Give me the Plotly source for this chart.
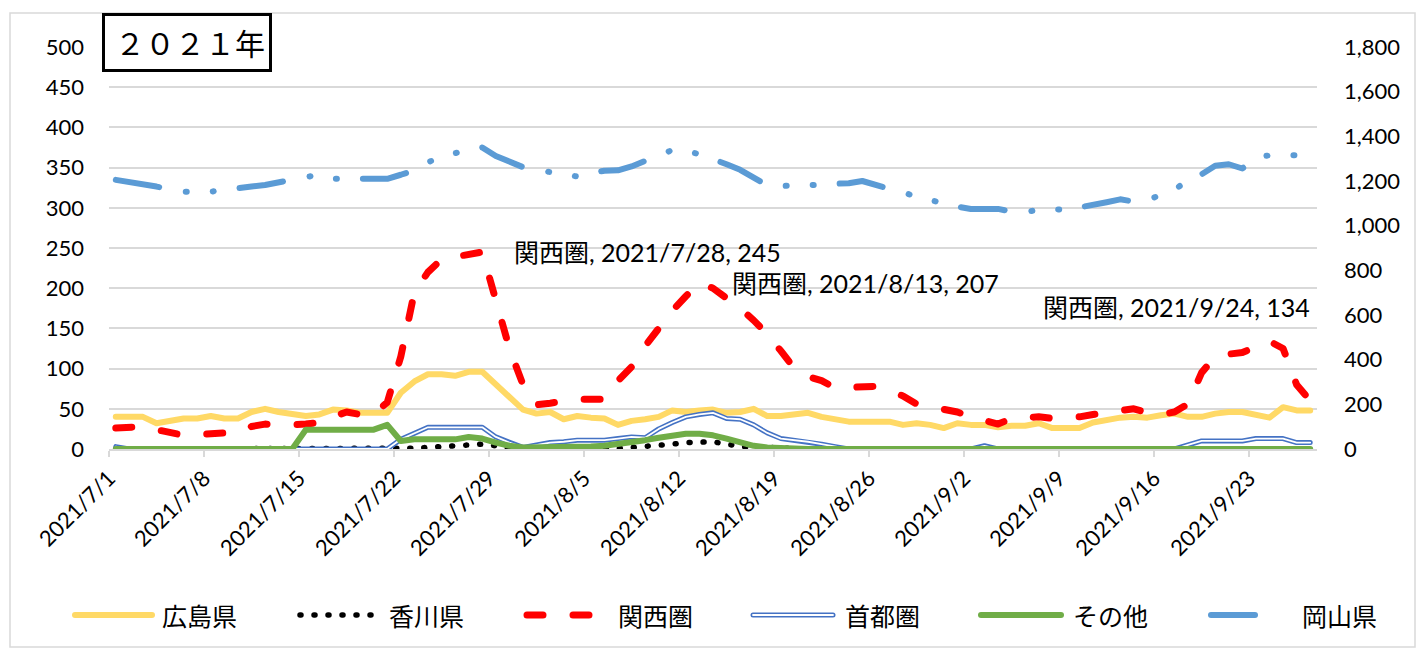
import pandas as pd
import plotly.graph_objects as go

# ---------------- data ----------------
start_date = "2021-07-01"
end_date = "2021-09-27"
dates = pd.date_range(start_date, end_date, freq="D")          # 89 days
tick_dates = pd.date_range(start_date, end_date, freq="7D")
tick_text = [f"{d.year}/{d.month}/{d.day}" for d in tick_dates]

series_names = ["広島県", "香川県", "関西圏", "首都圏", "その他", "岡山県"]

hiroshima = [40, 40, 40, 32, 35, 38, 38, 41, 38, 38,
             46, 50, 46, 43, 41, 43, 49, 48, 45, 45,
             45, 70, 84, 93, 93, 91, 96, 96, 80, 63,
             49, 44, 46, 37, 41, 39, 38, 30, 35, 37,
             40, 48, 46, 48, 49, 45, 46, 50, 41, 41,
             43, 45, 40, 37, 34, 34, 34, 34, 30, 32,
             30, 26, 32, 30, 30, 27, 29, 29, 32, 26,
             26, 26, 33, 36, 39, 40, 39, 42, 44, 40,
             40, 44, 46, 46, 43, 39, 52, 48, 48]

kagawa = [0, 0, 0, 0, 0, 0, 0, 0, 0, 0,
          0, 0, 0, 0, 0, 0, 0, 0, 0, 0,
          0, 1, 1, 2, 3, 4, 5, 6, 4, 1,
          0, 0, 0, 0, 0, 0, 0, 1, 2, 3,
          4, 6, 8, 9, 9, 6, 3, 1, 2, 1,
          0, 0, 0, 0, 0, 0, 0, 0, 0, 0,
          0, 0, 0, 0, 0, 0, 0, 0, 0, 0,
          0, 0, 0, 0, 0, 0, 0, 0, 0, 0,
          0, 0, 0, 0, 0, 0, 0, 0, 0]

kansai = [26, 27, 28, 24, 20, 17, 18, 20, 20, 20,
          28, 31, 30, 30, 31, 33, 40, 46, 43, 43,
          58, 115, 195, 220, 236, 239, 241, 245, 185, 125,
          80, 55, 57, 60, 62, 62, 62, 85, 102, 128,
          150, 172, 190, 207, 200, 188, 175, 160, 143, 122,
          100, 90, 85, 76, 77, 78, 78, 72, 66, 56,
          53, 49, 46, 40, 36, 31, 38, 40, 40, 38,
          38, 40, 43, 45, 48, 50, 45, 43, 46, 56,
          95, 115, 118, 120, 127, 134, 125, 80, 60]

shutoken = [3, 0, 0, 0, 0, 0, 0, 0, 0, 0,
            0, 0, 0, 0, 0, 0, 0, 0, 0, 0,
            0, 12, 20, 27, 27, 27, 27, 27, 15, 8,
            2, 5, 8, 9, 11, 11, 11, 13, 15, 14,
            25, 33, 40, 43, 45, 38, 37, 30, 20, 13,
            11, 9, 6, 3, 0, 0, 0, 0, 0, 0,
            0, 0, 0, 0, 4, 0, 0, 0, 0, 0,
            0, 0, 0, 0, 0, 0, 0, 0, 0, 5,
            10, 10, 10, 10, 13, 13, 13, 8, 8]

other = [0, 0, 0, 0, 0, 0, 0, 0, 0, 0,
         0, 0, 0, 0, 24, 24, 24, 24, 24, 24,
         30, 10, 12, 12, 12, 12, 15, 13, 8, 4,
         2, 2, 2, 2, 2, 3, 4, 6, 9, 11,
         14, 17, 19, 19, 17, 13, 8, 4, 2, 1,
         0, 0, 0, 0, 0, 0, 0, 0, 0, 0,
         0, 0, 0, 0, 0, 0, 0, 0, 0, 0,
         0, 0, 0, 0, 0, 0, 0, 0, 0, 0,
         0, 0, 0, 0, 0, 0, 0, 0, 0]

okayama = [1205, 1196, 1187, 1175, 1162, 1152, 1152, 1152, 1160, 1170,
           1175, 1182, 1195, 1205, 1218, 1227, 1210, 1210, 1210, 1208,
           1210, 1228, 1248, 1285, 1305, 1325, 1335, 1350, 1312, 1285,
           1262, 1250, 1240, 1230, 1220, 1235, 1246, 1248, 1265, 1290,
           1310, 1340, 1335, 1320, 1300, 1275, 1250, 1218, 1180, 1178,
           1178, 1180, 1185, 1185, 1190, 1200, 1180, 1165, 1150, 1128,
           1115, 1098, 1085, 1075, 1075, 1075, 1063, 1060, 1072, 1075,
           1070, 1080, 1090, 1105, 1118, 1108, 1115, 1135, 1160, 1205,
           1230, 1268, 1275, 1256, 1305, 1315, 1315, 1315, 1315]

label_dates = ["2021-07-28", "2021-08-13", "2021-09-24"]

# ---------------- geometry / style ----------------
W, H = 1417, 649
ML, MR, MT, MB = 109, 100, 47, 200
PW, PH = W - ML - MR, H - MT - MB
BOTTOM = H - MB


def px_x(px):
    return (px - ML) / PW


def px_y(py):
    return (BOTTOM - py) / PH


LATIN = "Lato, 'Noto Sans CJK JP', sans-serif"
CJK = "'Noto Sans CJK JP', sans-serif"
GRID = "#d9d9d9"

# points sit in the middle of each day slot (date axis, between tick marks)
x_pos = dates + pd.Timedelta(hours=12)

styles = {
    "広島県": dict(color="#FFD966", width=6, dash="solid"),
    "香川県": dict(color="#000000", width=5.5, dash="1px,13px"),
    "関西圏": dict(color="#FF0000", width=7, dash="16px,30px"),
    "首都圏": dict(color="#4472C4", width=5, dash="solid"),
    "その他": dict(color="#70AD47", width=6, dash="solid"),
    "岡山県": dict(color="#5B9BD5", width=6, dash="44px,27px,1px,26px,1px,26px"),
}
values = {"広島県": hiroshima, "香川県": kagawa, "関西圏": kansai,
          "首都圏": shutoken, "その他": other, "岡山県": okayama}

fig = go.Figure()
for name in series_names:
    st = styles[name]
    fig.add_trace(go.Scatter(
        x=x_pos, y=values[name], name=name, mode="lines",
        line=dict(color=st["color"], width=st["width"], dash=st["dash"]),
        yaxis="y2" if name == "岡山県" else "y",
        showlegend=False))
    if name == "首都圏":   # double (compound) line: white core
        fig.add_trace(go.Scatter(
            x=x_pos, y=values[name], mode="lines",
            line=dict(color="white", width=1.8),
            hoverinfo="skip", showlegend=False))

# data labels on 関西圏 peaks
label_offsets = {"2021-07-28": (30, 0, "left"),
                 "2021-08-13": (31, 0, "left"),
                 "2021-09-24": (-93, 34, "center")}
date_list = list(dates)
for ds in label_dates:
    idx = date_list.index(pd.Timestamp(ds))
    d = dates[idx]
    v = kansai[idx]
    xs, ys, anc = label_offsets[ds]
    fig.add_annotation(
        x=x_pos[idx], y=v, xref="x", yref="y",
        text=f"関西圏, {d.year}/{d.month}/{d.day}, {v}",
        showarrow=False, xanchor=anc, yanchor="middle",
        xshift=xs, yshift=ys,
        font=dict(family=LATIN, size=25, color="#000000"))

shapes = []
# outer chart border
shapes.append(dict(type="rect", xref="paper", yref="paper",
                   x0=px_x(10), x1=px_x(1415), y0=px_y(647), y1=px_y(13),
                   line=dict(color=GRID, width=1.5), layer="below"))
# title box
shapes.append(dict(type="rect", xref="paper", yref="paper",
                   x0=px_x(103.5), x1=px_x(270.5), y0=px_y(70.5), y1=px_y(14.5),
                   line=dict(color="#000000", width=3), fillcolor="white",
                   layer="above"))
fig.add_annotation(x=px_x(190), y=px_y(42), xref="paper", yref="paper",
                   text="２０２１年", showarrow=False,
                   xanchor="center", yanchor="middle",
                   font=dict(family=CJK, size=30, color="#000000"))

# manual legend
leg_x = [75, 300, 527, 753, 981, 1211]
leg_len = [77, 72, 72, 80, 80, 52]
leg_text_x = [160, 387, 616, 843, 1071, 1300]
leg_y = 615
for i, name in enumerate(series_names):
    st = styles[name]
    shapes.append(dict(type="line", xref="paper", yref="paper",
                       x0=px_x(leg_x[i]), x1=px_x(leg_x[i] + leg_len[i]),
                       y0=px_y(leg_y), y1=px_y(leg_y),
                       line=dict(color=st["color"], width=st["width"],
                                 dash=st["dash"])))
    if name == "首都圏":
        shapes.append(dict(type="line", xref="paper", yref="paper",
                           x0=px_x(leg_x[i]), x1=px_x(leg_x[i] + leg_len[i]),
                           y0=px_y(leg_y), y1=px_y(leg_y),
                           line=dict(color="white", width=1.8)))
    fig.add_annotation(x=px_x(leg_text_x[i]), y=px_y(leg_y), xref="paper",
                       yref="paper", text=name, showarrow=False,
                       xanchor="left", yanchor="middle",
                       font=dict(family=CJK, size=25, color="#000000"))

fig.update_layout(
    width=W, height=H,
    margin=dict(l=ML, r=MR, t=MT, b=MB, autoexpand=False),
    paper_bgcolor="white", plot_bgcolor="white",
    showlegend=False,
    shapes=shapes,
    xaxis=dict(type="date",
               range=[dates[0], dates[-1] + pd.Timedelta(days=1)],
               tickmode="array", tickvals=list(tick_dates), ticktext=tick_text,
               tickangle=-45, ticks="outside", ticklen=6, tickwidth=1.5,
               tickcolor=GRID, showline=True, linecolor=GRID, linewidth=1.5,
               showgrid=False, zeroline=False,
               tickfont=dict(family=LATIN, size=22, color="#000000")),
    yaxis=dict(range=[0, 500], dtick=50, showgrid=True, gridcolor=GRID,
               gridwidth=1.5, zeroline=False, showline=False, ticks="",
               ticklabelstandoff=24,
               tickfont=dict(family=LATIN, size=22, color="#000000")),
    yaxis2=dict(range=[0, 1800], dtick=200, overlaying="y", side="right",
                showgrid=False, zeroline=False, showline=False, ticks="",
                tickformat=",d", ticklabelstandoff=26,
                tickfont=dict(family=LATIN, size=22, color="#000000")),
)

post_js = """
document.body.style.margin = '0';
document.body.style.padding = '0';
document.documentElement.style.overflow = 'hidden';
var gd = document.getElementById('{plot_id}');
function roundCaps(){
  gd.querySelectorAll('.scatterlayer path.js-line').forEach(function(p){
    p.style.strokeLinecap = 'round'; p.style.strokeLinejoin = 'round';});
  gd.querySelectorAll('.shapelayer path').forEach(function(p){
    p.style.strokeLinecap = 'round';});
}
roundCaps();
gd.on('plotly_afterplot', roundCaps);
"""

fig.write_html("out.html", post_script=post_js,
               config={"displayModeBar": False, "responsive": False})
